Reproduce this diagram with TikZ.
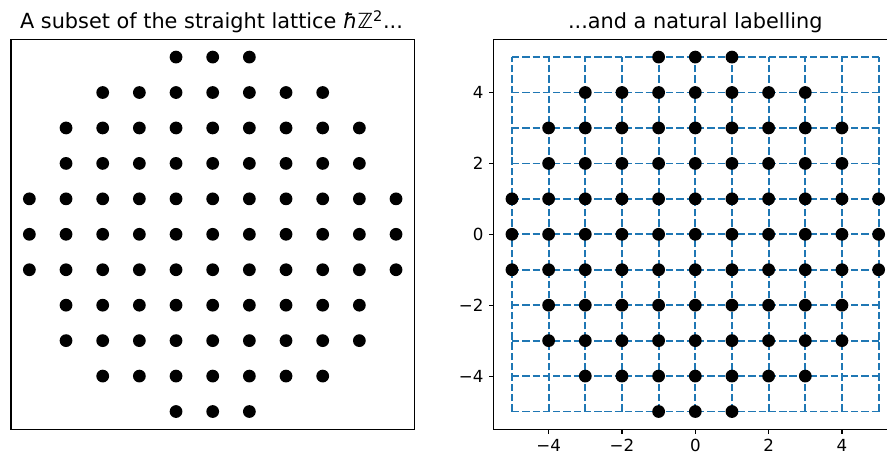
\documentclass[tikz,border=0pt]{standalone}
\usepackage{fontspec}
\setmainfont{DejaVu Sans}
\definecolor{mBlue}{HTML}{1F77B4}
\usetikzlibrary{positioning}

\begin{document}
\begin{tikzpicture}[x=0.72pt, y=-0.72pt,
  spine/.style={draw=black, line width=0.8pt},
  gridln/.style={draw=mBlue, line width=1.25pt, dash pattern=on 5.3pt off 2.1pt},
  dot/.style={fill=black},
  tk/.style={black, line width=0.8pt},
  lbl/.style={font=\fontsize{12}{14}\selectfont, inner sep=0pt},
  ttl/.style={font=\fontsize{15}{18}\selectfont, anchor=base, inner sep=0pt}]
  \clip (0,0) rectangle (887,457);
  \fill[white] (0,0) rectangle (887,457);
  % titles
  \node[ttl] (ttlL) at (211.5,28.3) {A subset of the straight lattice {\itshape ħ}ℤ\textsuperscript{2}...};
  \node[ttl] (ttlR) at (695.3,28.3) {...and a natural labelling};
  % left panel: the lattice points only
  \begin{scope}[shift={(212.7,234.3)}, x=26.4pt, y=25.52pt]
    \draw[spine] (-5.5,-5.5) rectangle (5.5,5.5);
    \foreach \i in {-5,...,5}{
      \foreach \j in {-5,...,5}{
        \pgfmathtruncatemacro\rr{\i*\i+\j*\j}
        \ifnum\rr<27 \fill[dot] (\i,\j) circle[radius=4.6pt]; \fi}}
  \end{scope}
  % right panel: grid, points and axes
  \begin{scope}[shift={(695.3,234.3)}, x=26.4pt, y=25.52pt]
    \foreach \k in {-5,...,5}{
      \draw[gridln] (-5,\k) -- (5,\k);
      \draw[gridln] (\k,-5) -- (\k,5);}
    \foreach \i in {-5,...,5}{
      \foreach \j in {-5,...,5}{
        \pgfmathtruncatemacro\rr{\i*\i+\j*\j}
        \ifnum\rr<27 \fill[dot] (\i,\j) circle[radius=4.6pt]; \fi}}
    \draw[spine] (5.6,5.5) -- (-5.5,5.5) -- (-5.5,-5.5) -- (5.6,-5.5);
    \foreach \v/\t in {-4/−4, -2/−2, 0/0, 2/2, 4/4}{
      \draw[tk] (-5.5,\v) -- ++(-3.5pt,0) node[lbl, left=3.5pt] (yt\v) {\t};
      \draw[tk] (\v,-5.5) -- ++(0,-3.5pt) node[lbl, below=3.5pt] (xt\v) {\t};}
  \end{scope}
\end{tikzpicture}
\end{document}
